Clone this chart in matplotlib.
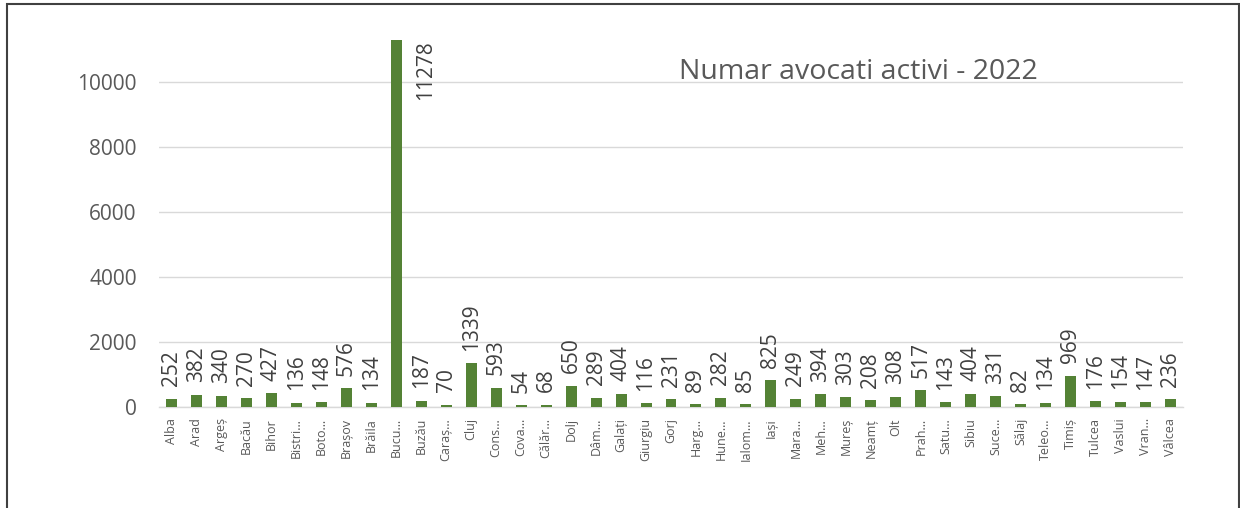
import matplotlib.pyplot as plt
from matplotlib.patches import Rectangle

plt.rcParams['font.family'] = ['Open Sans', 'DejaVu Sans']

# data
judete = ['Alba', 'Arad', 'Argeș', 'Bacău', 'Bihor', 'Bistri…', 'Boto…', 'Brașov', 'Brăila',
          'Bucu…', 'Buzău', 'Caraș…', 'Cluj', 'Cons…', 'Cova…', 'Călăr…', 'Dolj', 'Dâm…',
          'Galați', 'Giurgiu', 'Gorj', 'Harg…', 'Hune…', 'Ialom…', 'Iași', 'Mara…', 'Meh…',
          'Mureș', 'Neamț', 'Olt', 'Prah…', 'Satu…', 'Sibiu', 'Suce…', 'Sălaj', 'Teleo…',
          'Timiș', 'Tulcea', 'Vaslui', 'Vran…', 'Vâlcea']
avocati = [252, 382, 340, 270, 427, 136, 148, 576, 134, 11278, 187, 70, 1339, 593, 54, 68,
           650, 289, 404, 116, 231, 89, 282, 85, 825, 249, 394, 303, 208, 308, 517, 143,
           404, 331, 82, 134, 969, 176, 154, 147, 236]
yticks = [0, 2000, 4000, 6000, 8000, 10000]
title = 'Numar avocati activi - 2022'

W, H = 1240, 508
fig = plt.figure(figsize=(W / 100, H / 100), dpi=100)
ax = fig.add_axes([159 / W, 101 / H, 1024 / W, 390 / H])

x = range(len(judete))
ax.bar(x, avocati, width=0.44, color='#548235', zorder=3)
ax.set_xlim(-0.5, len(judete) - 0.5)
ax.set_ylim(0, 12000)

ax.set_yticks(yticks)
ax.set_yticklabels([str(v) for v in yticks], fontsize=15, color='#595959')
ax.set_xticks(list(x))
ax.set_xticklabels(judete, rotation=90, fontsize=9, color='#595959')
ax.tick_params(axis='x', length=0, pad=8)
ax.tick_params(axis='y', length=0, pad=16)

ax.grid(axis='y', color='#d9d9d9', lw=1.0, zorder=0)
for s in ['top', 'right', 'left']:
    ax.spines[s].set_visible(False)
ax.spines['bottom'].set_color('#d9d9d9')
ax.spines['bottom'].set_linewidth(1.0)

# data labels
for i, v in enumerate(avocati):
    if v > 10000:
        ax.annotate(str(v), (i, v), xytext=(21, 0), textcoords='offset points',
                    rotation=90, ha='center', va='top', fontsize=15, color='#404040')
    else:
        ax.annotate(str(v), (i, v), xytext=(0, 9), textcoords='offset points',
                    rotation=90, ha='center', va='bottom', fontsize=15, color='#404040')

fig.text(858 / W, 1 - 79 / H, title, ha='center', va='baseline', fontsize=20.5, color='#595959')

# chart border
fig.patches.append(Rectangle((7 / W, -0.02), 1232 / W, 1.02 - 4 / H, transform=fig.transFigure,
                             fill=False, edgecolor='#404040', lw=1.5))

fig.savefig('out.png', dpi=100)
